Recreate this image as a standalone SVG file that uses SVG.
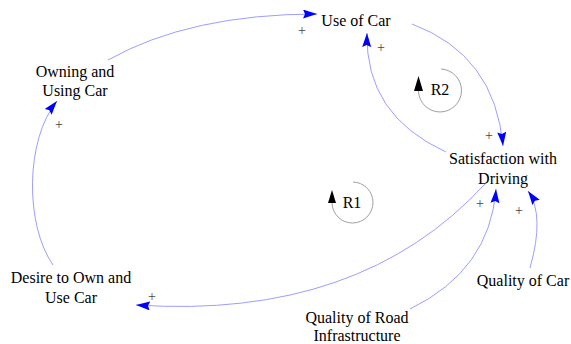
<svg xmlns="http://www.w3.org/2000/svg" width="571" height="344" viewBox="0 0 571 344">
<defs>
<style>
.lbl{font-family:'Liberation Serif','Times New Roman',serif;font-size:16px;fill:#000;text-anchor:middle}
.pl{font-family:'Liberation Serif','Times New Roman',serif;font-size:14px;fill:#444;text-anchor:middle}
.lk{fill:none;stroke:#9d9dff;stroke-width:1}
.lp{fill:none;stroke:#a0a0a0;stroke-width:1}
</style>
<marker id="arr" markerWidth="15" markerHeight="9" refX="14" refY="4.5" orient="auto" markerUnits="userSpaceOnUse"><path d="M0,0 L14,4.5 L0,9 L2,4.5 z" fill="#0000ff"/></marker>
</defs>
<g id="connectors">
<path class="lk" d="M108,60 Q190,14 317,14" marker-end="url(#arr)"/>
<path class="lk" d="M412,24 Q495,55 503,146" marker-end="url(#arr)"/>
<path class="lk" d="M446,152 Q365,115 367,33" marker-end="url(#arr)"/>
<path class="lk" d="M485,184 Q360,320 136,305" marker-end="url(#arr)"/>
<path class="lk" d="M53,265 C25,225 25,140 57,101" marker-end="url(#arr)"/>
<path class="lk" d="M410,309 Q490,270 496,189" marker-end="url(#arr)"/>
<path class="lk" d="M530,268 Q545,215 528,191" marker-end="url(#arr)"/>
<text class="pl" x="302" y="35">+</text>
<text class="pl" x="381" y="52">+</text>
<text class="pl" x="489" y="140">+</text>
<text class="pl" x="59" y="129">+</text>
<text class="pl" x="152" y="301">+</text>
<text class="pl" x="480" y="208">+</text>
<text class="pl" x="519" y="215">+</text>
</g>
<g id="use-of-car"><text class="lbl" x="356" y="26">Use of Car</text></g>
<g id="owning-using-car"><text class="lbl" x="75" y="77">Owning and</text><text class="lbl" x="75" y="96">Using Car</text></g>
<g id="satisfaction"><text class="lbl" x="503" y="164">Satisfaction with</text><text class="lbl" x="503" y="184">Driving</text></g>
<g id="desire"><text class="lbl" x="71" y="283">Desire to Own and</text><text class="lbl" x="71" y="303">Use Car</text></g>
<g id="quality-road"><text class="lbl" x="357" y="323">Quality of Road</text><text class="lbl" x="357" y="341">Infrastructure</text></g>
<g id="quality-car"><text class="lbl" x="523" y="286">Quality of Car</text></g>
<g id="loop-r1">
<path class="lp" d="M353,182 A20.5,20.5 0 1 1 332,203"/>
<path d="M332,190 L336,203 L328,203 z" fill="#000"/>
<text class="lbl" x="352" y="208">R1</text>
</g>
<g id="loop-r2">
<path class="lp" d="M441,69 A21.5,21.5 0 1 1 418.5,91"/>
<path d="M418.5,76 L423,91 L414,91 z" fill="#000"/>
<text class="lbl" x="440" y="95">R2</text>
</g>
</svg>
